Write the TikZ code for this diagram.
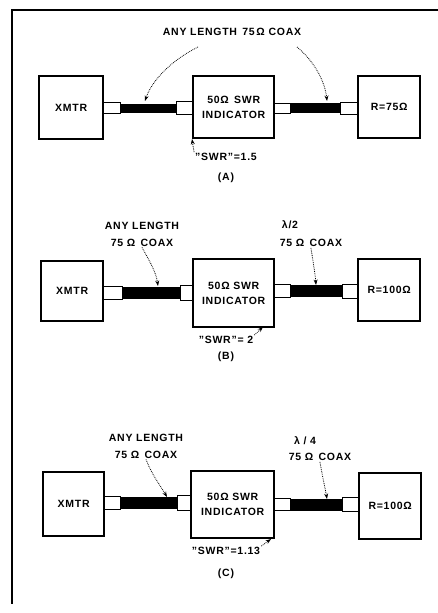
\documentclass[tikz,border=0pt]{standalone}
\usepackage{fontspec}
\setmainfont{Liberation Sans}[LetterSpace=7]
\usetikzlibrary{arrows.meta}
\begin{document}
\begin{tikzpicture}[x=1pt,y=-1pt,
  blk/.style={draw, line width=2.4pt, fill=white, inner sep=0pt, anchor=north west, align=center,
    font=\fontsize{10.5}{15}\selectfont\bfseries},
  conn/.style={draw, line width=0.9pt, fill=white, inner sep=0pt, anchor=north west},
  cab/.style={draw, fill=black, line width=0.5pt, inner sep=0pt, anchor=north west},
  lab/.style={inner sep=1pt, align=center, font=\fontsize{10.5}{17}\selectfont\bfseries},
  ptr/.style={densely dotted, line width=0.8pt, -{Stealth[length=5.5pt,width=4pt]}}]
\fill[white] (0,0) rectangle (438,613);
\useasboundingbox (0,0) rectangle (438,613);
% frame
\draw[line width=1.4pt] (438,10) -- (12,10);
\draw[line width=2pt] (12,9) -- (12,604);

% ---------- panel A ----------
\node[cab, minimum width=56pt, minimum height=8pt] (kA1) at (120,103.5) {};
\node[cab, minimum width=50pt, minimum height=9pt] (kA2) at (290,103) {};
\node[conn, minimum width=18pt, minimum height=11pt] (cA1) at (102,102) {};
\node[conn, minimum width=16pt, minimum height=13pt] (cA2) at (176,101) {};
\node[conn, minimum width=17pt, minimum height=10pt] (cA3) at (273,103) {};
\node[conn, minimum width=17pt, minimum height=12pt] (cA4) at (340,102) {};
\node[blk, minimum width=64pt, minimum height=63pt] (xA) at (38,75) {XMTR};
\node[blk, minimum width=81pt, minimum height=62pt] (sA) at (192,75) {50Ω\enspace SWR\\INDICATOR};
\node[blk, minimum width=62pt, minimum height=62pt] (rA) at (357,75) {R=75Ω};
\node[lab] (lA) at (232,32) {ANY LENGTH\enspace 75\,Ω COAX};
\coordinate (aA1) at (198,47);
\coordinate (aA2) at (297,47);
\coordinate (tA1) at (145,101);
\coordinate (tA2) at (327,101);
\draw[ptr] (aA1) .. controls (172,60) and (152,80) .. (tA1);
\draw[ptr] (aA2) .. controls (315,62) and (325,82) .. (tA2);
\node[lab] (swA) at (226,157) {"SWR"=1.5};
\coordinate (tA3) at (192,139);
\draw[ptr] (swA.north west) -- (tA3);
\node[lab] (pA) at (226,178) {(A)};

% ---------- panel B ----------
\node[cab, minimum width=58pt, minimum height=11pt] (kB1) at (122,287) {};
\node[cab, minimum width=52pt, minimum height=11pt] (kB2) at (290,285) {};
\node[conn, minimum width=20pt, minimum height=13pt] (cB1) at (102,286) {};
\node[conn, minimum width=12pt, minimum height=15pt] (cB2) at (180,285) {};
\node[conn, minimum width=17pt, minimum height=13pt] (cB3) at (273,284) {};
\node[conn, minimum width=15pt, minimum height=14pt] (cB4) at (342,284) {};
\node[blk, minimum width=62pt, minimum height=60pt] (xB) at (40,260) {XMTR};
\node[blk, minimum width=81pt, minimum height=68pt] (sB) at (192,258) {50Ω SWR\\INDICATOR};
\node[blk, minimum width=62pt, minimum height=62pt] (rB) at (357,258) {R=100Ω};
\node[lab] (lB) at (142,234) {ANY LENGTH\\75 Ω\enspace COAX};
\node[lab] (mB) at (290,225) {λ/2};
\node[lab] (nB) at (311,243) {75 Ω\enspace COAX};
\coordinate (tB1) at (158,286);
\coordinate (tB2) at (316,285);
\draw[ptr] (lB.south) .. controls (150,262) and (156,272) .. (tB1);
\draw[ptr] (nB.south) .. controls (313,262) and (315,272) .. (tB2);
\node[lab] (swB) at (226,340) {"SWR"= 2};
\coordinate (tB3) at (263,327);
\draw[ptr] (swB.north east) -- (tB3);
\node[lab] (pB) at (226,357) {(B)};

% ---------- panel C ----------
\node[cab, minimum width=57pt, minimum height=11pt] (kC1) at (120,497) {};
\node[cab, minimum width=52pt, minimum height=11pt] (kC2) at (290,499) {};
\node[conn, minimum width=17pt, minimum height=13pt] (cC1) at (103,496) {};
\node[conn, minimum width=13pt, minimum height=15pt] (cC2) at (177,495) {};
\node[conn, minimum width=17pt, minimum height=12pt] (cC3) at (273,498) {};
\node[conn, minimum width=16pt, minimum height=14pt] (cC4) at (342,497) {};
\node[blk, minimum width=61pt, minimum height=64pt] (xC) at (42,471) {XMTR};
\node[blk, minimum width=83pt, minimum height=67pt] (sC) at (190,470) {50Ω SWR\\INDICATOR};
\node[blk, minimum width=62pt, minimum height=66pt] (rC) at (358,472) {R=100Ω};
\node[lab] (lC) at (146,446) {ANY LENGTH\\75 Ω\enspace COAX};
\node[lab] (mC) at (305,441) {λ / 4};
\node[lab] (nC) at (320,457) {75 Ω\enspace COAX};
\coordinate (tC1) at (167,497);
\coordinate (tC2) at (327,499);
\draw[ptr] (lC.south) .. controls (152,475) and (160,485) .. (tC1);
\draw[ptr] (nC.south) .. controls (322,475) and (325,487) .. (tC2);
\node[lab] (swC) at (226,551) {"SWR"=1.13};
\coordinate (tC3) at (271,539);
\draw[ptr] (swC.north east) -- (tC3);
\node[lab] (pC) at (226,574) {(C)};
\end{tikzpicture}
\end{document}
